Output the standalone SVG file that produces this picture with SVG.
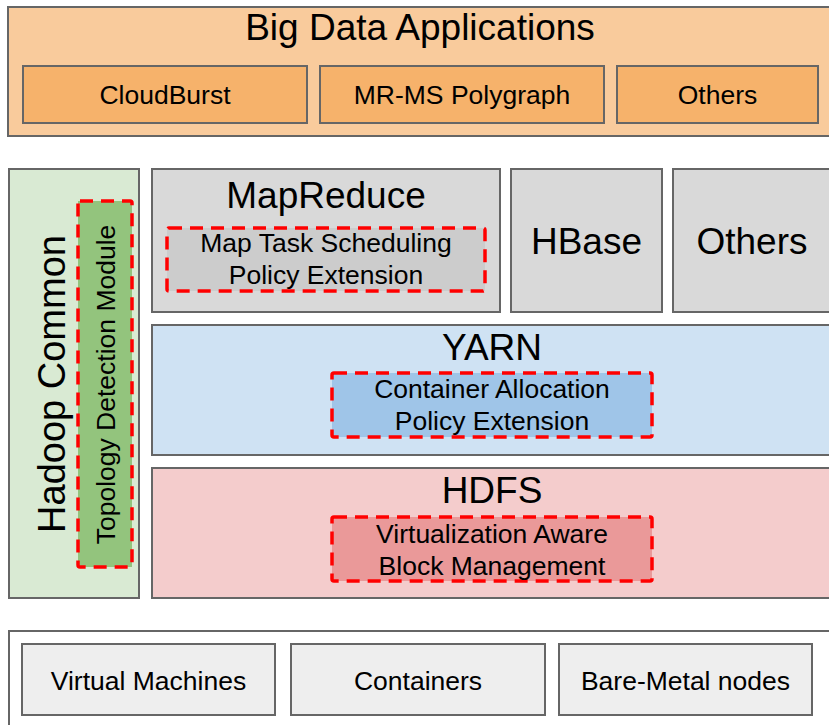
<svg xmlns="http://www.w3.org/2000/svg" width="829" height="725" viewBox="0 0 829 725">
<style>
text{font-family:"Liberation Sans",Arial,sans-serif;fill:#000;text-anchor:middle}
.big{font-size:37px}
.sm{font-size:26.5px}
.box{stroke:#666;stroke-width:2}
.dash{fill:none;stroke:#ff0000;stroke-width:3.5;stroke-dasharray:13 8}
</style>
<rect width="829" height="725" fill="#fff"/>
<g id="apps">
<rect class="box" x="8" y="7" width="826" height="129" fill="#f9cb9c"/>
<text class="big" x="420" y="40">Big Data Applications</text>
</g>
<g id="cloudburst">
<rect class="box" x="23" y="66" width="284" height="57" fill="#f6b26b"/>
<text class="sm" x="165" y="104">CloudBurst</text>
</g>
<g id="mrms">
<rect class="box" x="320" y="66" width="284" height="57" fill="#f6b26b"/>
<text class="sm" x="462" y="104">MR-MS Polygraph</text>
</g>
<g id="apps-others">
<rect class="box" x="617" y="66" width="201" height="57" fill="#f6b26b"/>
<text class="sm" x="717.5" y="104">Others</text>
</g>
<g id="hadoop-common">
<rect class="box" x="9" y="169" width="130" height="429" fill="#d9ead3"/>
<text class="big" transform="translate(65,384) rotate(-90)" style="font-size:38px">Hadoop Common</text>
</g>
<g id="topology">
<rect x="78" y="201" width="54" height="366" fill="#93c47d"/>
<rect class="dash" x="78" y="201" width="54" height="366" rx="2"/>
<text class="sm" transform="translate(115,384.5) rotate(-90)">Topology Detection Module</text>
</g>
<g id="mapreduce">
<rect class="box" x="152" y="169" width="348" height="143" fill="#d9d9d9"/>
<text class="big" x="326" y="208">MapReduce</text>
</g>
<g id="map-task">
<rect x="167" y="228" width="318" height="63" fill="#cccccc"/>
<rect class="dash" x="167" y="228" width="318" height="63" rx="2"/>
<text class="sm" x="326" y="252">Map Task Scheduling</text>
<text class="sm" x="326" y="284">Policy Extension</text>
</g>
<g id="hbase">
<rect class="box" x="511" y="169" width="151" height="143" fill="#d9d9d9"/>
<text class="big" x="586.5" y="254">HBase</text>
</g>
<g id="others2">
<rect class="box" x="673" y="169" width="160" height="143" fill="#d9d9d9"/>
<text class="big" x="752" y="254">Others</text>
</g>
<g id="yarn">
<rect class="box" x="152" y="325" width="681" height="130" fill="#cfe2f3"/>
<text class="big" x="492" y="360">YARN</text>
</g>
<g id="container-alloc">
<rect x="332" y="373" width="320" height="64" fill="#9fc5e8"/>
<rect class="dash" x="332" y="373" width="320" height="64" rx="2"/>
<text class="sm" x="492" y="398">Container Allocation</text>
<text class="sm" x="492" y="430">Policy Extension</text>
</g>
<g id="hdfs">
<rect class="box" x="152" y="468" width="681" height="130" fill="#f4cccc"/>
<text class="big" x="492" y="503">HDFS</text>
</g>
<g id="block-mgmt">
<rect x="332" y="517" width="320" height="64" fill="#ea9999"/>
<rect class="dash" x="332" y="517" width="320" height="64" rx="2"/>
<text class="sm" x="492" y="543">Virtualization Aware</text>
<text class="sm" x="492" y="575">Block Management</text>
</g>
<g id="infra">
<rect class="box" x="9" y="631" width="826" height="100" fill="#fff"/>
</g>
<g id="vm">
<rect class="box" x="22" y="644" width="253" height="71" fill="#eeeeee"/>
<text class="sm" x="148.5" y="690">Virtual Machines</text>
</g>
<g id="containers">
<rect class="box" x="291" y="644" width="254" height="71" fill="#eeeeee"/>
<text class="sm" x="418" y="690">Containers</text>
</g>
<g id="baremetal">
<rect class="box" x="559" y="644" width="253" height="71" fill="#eeeeee"/>
<text class="sm" x="685.5" y="690">Bare-Metal nodes</text>
</g>
<g id="connectors"></g>
</svg>
